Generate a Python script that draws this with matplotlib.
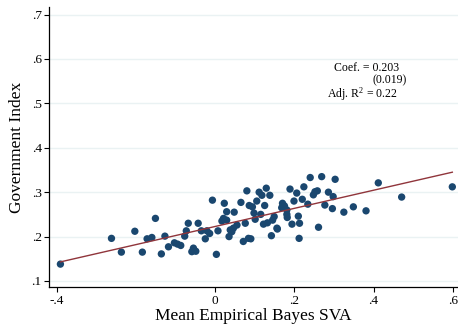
"""Binscatter of government index against mean empirical Bayes SVA."""
import matplotlib
matplotlib.use('Agg')
import matplotlib.pyplot as plt
import numpy as np

plt.rcParams['font.family'] = ['Liberation Serif', 'DejaVu Serif']
plt.rcParams['mathtext.fontset'] = 'stix'

# points
svA = [-0.391, -0.262, -0.237, -0.203, -0.184, -0.151, -0.172, -0.160, -0.136, -0.127,
       -0.118, -0.103, -0.095, -0.087, -0.077, -0.073, -0.068, -0.043, -0.035, -0.021,
       -0.014, -0.025, -0.059, -0.055, -0.049, 0.003, -0.007, 0.023, 0.029, 0.048,
       0.017, 0.021, 0.029, 0.007, 0.035, 0.038, 0.046, 0.080, 0.111, 0.118,
       0.129, 0.138, 0.065, 0.086, 0.094, 0.105, 0.125, 0.098, 0.115, 0.170,
       0.168, 0.175, 0.149, 0.145, 0.132, 0.122, 0.101, 0.076, 0.055, 0.042,
       0.156, 0.142, 0.071, 0.084, 0.090, 0.189, 0.206, 0.224, 0.240, 0.199,
       0.220, 0.181, 0.181, 0.210, 0.194, 0.213, 0.157, 0.212, 0.269, 0.303,
       0.252, 0.258, 0.248, 0.286, 0.298, 0.234, 0.277, 0.296, 0.182, 0.261,
       0.325, 0.349, 0.381, 0.412, 0.471, 0.599]
gov_index = [0.138, 0.196, 0.165, 0.212, 0.165, 0.241, 0.195, 0.198, 0.161, 0.201,
             0.177, 0.186, 0.183, 0.180, 0.201, 0.213, 0.230, 0.230, 0.213, 0.213,
             0.207, 0.195, 0.166, 0.174, 0.167, 0.160, 0.282, 0.275, 0.256, 0.255,
             0.235, 0.241, 0.237, 0.213, 0.200, 0.215, 0.219, 0.303, 0.300, 0.293,
             0.309, 0.293, 0.277, 0.270, 0.267, 0.280, 0.270, 0.253, 0.250, 0.275,
             0.265, 0.269, 0.245, 0.237, 0.231, 0.228, 0.239, 0.230, 0.226, 0.211,
             0.219, 0.202, 0.189, 0.196, 0.195, 0.307, 0.298, 0.312, 0.333, 0.280,
             0.284, 0.260, 0.250, 0.246, 0.228, 0.230, 0.217, 0.196, 0.335, 0.329,
             0.301, 0.303, 0.294, 0.300, 0.290, 0.273, 0.271, 0.263, 0.243, 0.221,
             0.255, 0.267, 0.258, 0.321, 0.289, 0.312]

fit_x = [-0.391, 0.599]
fit_y = [0.143, 0.345]

x_ticks = [-0.4, 0, 0.2, 0.4, 0.6]
x_ticklabels = ['-.4', '0', '.2', '.4', '.6']
y_ticks = [0.1, 0.2, 0.3, 0.4, 0.5, 0.6, 0.7]
y_ticklabels = ['.1', '.2', '.3', '.4', '.5', '.6', '.7']

fig = plt.figure(figsize=(4.58, 3.29), dpi=100)
ax = fig.add_axes([0.1077, 0.1277, 0.892, 0.851])

for yt in y_ticks:
    ax.axhline(yt, color='#eaf2f3', lw=1.0, zorder=0)

ax.scatter(svA, gov_index, s=28, color='#1a476f', edgecolors='none', zorder=2)
ax.plot(fit_x, fit_y, color='#90353b', lw=1.0, zorder=3)

ax.set_xlim(-0.419, 0.613)
ax.set_ylim(0.0865, 0.717)

ax.set_xticks(x_ticks)
ax.set_xticklabels(x_ticklabels)
ax.set_yticks(y_ticks)
ax.set_yticklabels(y_ticklabels)
ax.tick_params(direction='out', length=3.5, width=0.8, labelsize=9.5, pad=2)

for side in ['top', 'right']:
    ax.spines[side].set_visible(False)
for side in ['left', 'bottom']:
    ax.spines[side].set_linewidth(0.9)

ax.set_xlabel('Mean Empirical Bayes SVA', fontsize=12.5, labelpad=1)
ax.set_ylabel('Government Index', fontsize=12.5, labelpad=5)

ax.text(0.301, 0.580, 'Coef. = 0.203', fontsize=8.5, va='center', ha='left')
ax.text(0.397, 0.553, '(0.019)', fontsize=8.5, va='center', ha='left')
ax.text(0.282, 0.520, 'Adj. R$^{\\mathregular{2}}$ = 0.22', fontsize=8.5, va='center', ha='left')

fig.savefig('out.png', dpi=100, facecolor='white')
